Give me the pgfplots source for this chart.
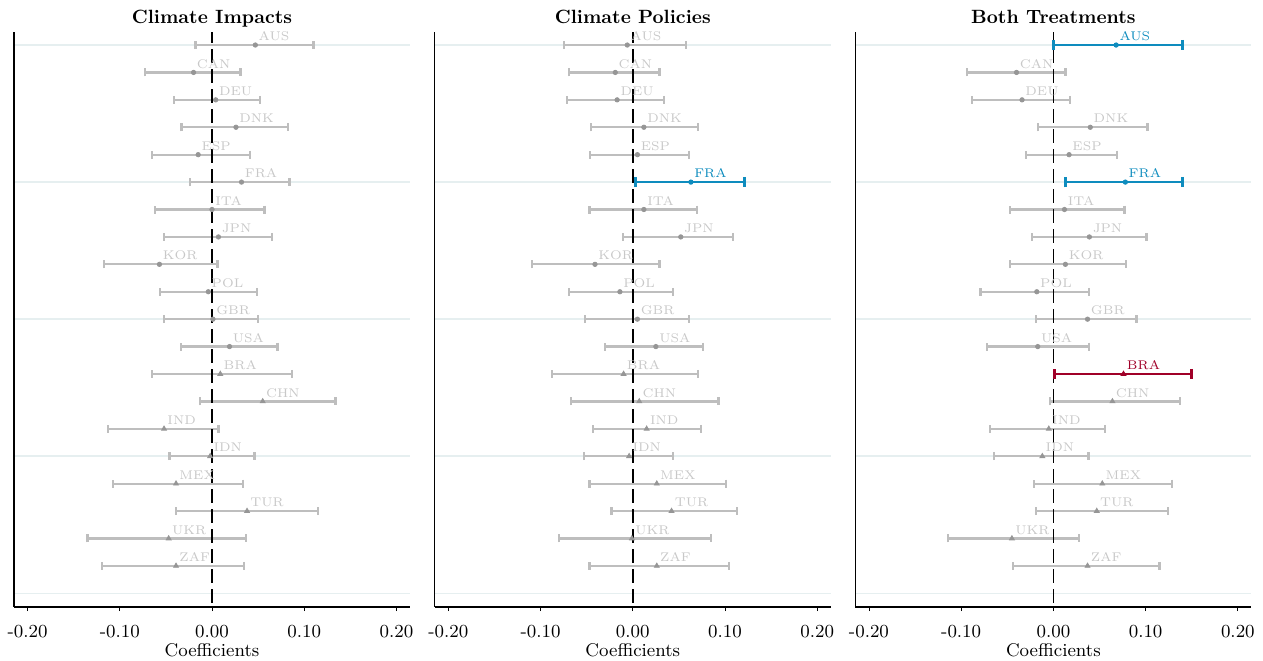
\documentclass[border=0pt]{standalone}
\usepackage{pgfplots}
\usepackage{pgfplotstable}
\pgfplotsset{compat=1.18}

\definecolor{bargray}{RGB}{190,190,190}
\definecolor{markgray}{RGB}{150,150,150}
\definecolor{labelgray}{RGB}{200,200,200}
\definecolor{gridc}{RGB}{230,239,240}
\definecolor{hlblue}{RGB}{14,140,190}
\definecolor{hlred}{RGB}{160,0,40}

\newcommand{\lbl}{\fontsize{6.3}{7}\selectfont}
\newcommand{\tck}{\fontsize{9.2}{11}\selectfont}

% rows: 0 = AUS (top) ... 19 = ZAF (bottom)
\pgfplotstableread{
row est lo hi name
0 0.047 -0.018 0.110 AUS
1 -0.020 -0.073 0.031 CAN
2 0.004 -0.041 0.052 DEU
3 0.026 -0.033 0.082 DNK
4 -0.015 -0.065 0.041 ESP
5 0.032 -0.024 0.084 FRA
6 0.000 -0.062 0.057 ITA
7 0.007 -0.052 0.065 JPN
8 -0.057 -0.117 0.006 KOR
9 -0.004 -0.056 0.049 POL
10 0.001 -0.052 0.050 GBR
11 0.019 -0.034 0.071 USA
12 0.009 -0.065 0.087 BRA
13 0.055 -0.013 0.134 CHN
14 -0.052 -0.113 0.007 IND
15 -0.002 -0.046 0.046 IDN
16 -0.039 -0.107 0.034 MEX
17 0.038 -0.039 0.115 TUR
18 -0.047 -0.135 0.037 UKR
19 -0.039 -0.119 0.035 ZAF
}\impacts

\pgfplotstableread{
row est lo hi name
0 -0.006 -0.075 0.058 AUS
1 -0.019 -0.069 0.029 CAN
2 -0.017 -0.071 0.034 DEU
3 0.012 -0.045 0.071 DNK
4 0.005 -0.046 0.061 ESP
6 0.012 -0.047 0.070 ITA
7 0.052 -0.011 0.109 JPN
8 -0.041 -0.109 0.029 KOR
9 -0.014 -0.069 0.044 POL
10 0.005 -0.052 0.061 GBR
11 0.025 -0.030 0.076 USA
12 -0.010 -0.088 0.071 BRA
13 0.007 -0.067 0.093 CHN
14 0.015 -0.043 0.074 IND
15 -0.004 -0.053 0.044 IDN
16 0.026 -0.047 0.101 MEX
17 0.042 -0.023 0.113 TUR
18 -0.001 -0.080 0.085 UKR
19 0.026 -0.047 0.104 ZAF
}\policies
\pgfplotstableread{
row est lo hi name
5 0.063 0.003 0.121 FRA
}\policieshl

\pgfplotstableread{
row est lo hi name
1 -0.040 -0.094 0.013 CAN
2 -0.034 -0.088 0.018 DEU
3 0.040 -0.017 0.102 DNK
4 0.017 -0.030 0.069 ESP
6 0.012 -0.047 0.077 ITA
7 0.039 -0.023 0.101 JPN
8 0.013 -0.047 0.079 KOR
9 -0.018 -0.079 0.039 POL
10 0.037 -0.019 0.090 GBR
11 -0.017 -0.072 0.039 USA
13 0.064 -0.004 0.137 CHN
14 -0.005 -0.069 0.056 IND
15 -0.012 -0.064 0.038 IDN
16 0.053 -0.021 0.129 MEX
17 0.047 -0.019 0.124 TUR
18 -0.045 -0.114 0.028 UKR
19 0.037 -0.044 0.115 ZAF
}\both
\pgfplotstableread{
row est lo hi name
0 0.068 0.000 0.140 AUS
5 0.078 0.013 0.140 FRA
}\bothblue
\pgfplotstableread{
row est lo hi name
12 0.076 0.001 0.150 BRA
}\bothred

\pgfplotsset{
  every axis title shift=0pt,
  coefpanel/.style={
    scale only axis, width=198pt, height=287.5pt,
    xmin=-0.2147, xmax=0.2147, ymin=-0.475, ymax=20.5, y dir=reverse,
    axis x line*=bottom, axis y line*=left,
    axis line style={line width=0.6pt, black},
    xtick={-0.2,-0.1,0,0.1,0.2},
    xticklabels={-0.20,-0.10,0.00,0.10,0.20},
    xticklabel style={font=\tck, anchor=base, yshift=-13pt},
    x tick style={black, line width=0.4pt},
    tick align=outside, major tick length=2pt,
    ytick={0,5,10,15,20}, yticklabels={}, y tick style={draw=none},
    ymajorgrids, grid style={gridc, line width=0.8pt},
    xlabel={Coefficients},
    xlabel style={font=\tck, at={(axis description cs:0.5,0)}, anchor=base, yshift=-24.5pt},
    title style={font=\bfseries\fontsize{9.6}{11}\selectfont, at={(axis description cs:0.5,1)}, anchor=base, yshift=4.5pt},
  },
  ci/.style 2 args={
    only marks, color=#1, mark options={fill=#1, draw=#1},
    error bars/x dir=both, error bars/x explicit, error bars/error mark=|,
    error bars/error bar style={line width=1.1pt, color=#2},
    error bars/error mark options={line width=1.1pt, mark size=2pt, color=#2},
    nodes near coords, point meta=explicit symbolic,
    nodes near coords style={anchor=base west, inner sep=0pt, xshift=1.5pt, yshift=2.2pt, font=\lbl, text=labelgray},
  },
  hl/.style={
    only marks, color=#1, mark options={fill=#1, draw=#1},
    error bars/x dir=both, error bars/x explicit, error bars/error mark=|,
    error bars/error bar style={line width=1.4pt, color=#1},
    error bars/error mark options={line width=1.4pt, mark size=2.6pt, color=#1},
    nodes near coords, point meta=explicit symbolic,
    nodes near coords style={anchor=base west, inner sep=0pt, xshift=1.5pt, yshift=2.2pt, font=\lbl, text=#1},
  },
  table/ci table/.style={x=est, y=row, meta=name,
    x error plus expr=\thisrow{hi}-\thisrow{est},
    x error minus expr=\thisrow{est}-\thisrow{lo}},
}

\newcommand{\zeroline}{\draw[black, line width=0.75pt, dash pattern=on 7pt off 3pt, dash phase=1.5pt] (axis cs:0,-0.475) -- (axis cs:0,20.5);}

\begin{document}
\begin{tikzpicture}
\useasboundingbox (-7pt,-26.5pt) rectangle (624.5pt,303.5pt);

\begin{axis}[coefpanel, at={(0pt,0pt)}, title={Climate Impacts}]
  \addplot[ci={markgray}{bargray}, mark=*, mark size=1.1pt, restrict y to domain=0:11]
    table[ci table] {\impacts};
  \addplot[ci={markgray}{bargray}, mark=triangle*, mark size=1.4pt, restrict y to domain=12:19]
    table[ci table] {\impacts};
  \zeroline
\end{axis}

\begin{axis}[coefpanel, at={(210.4pt,0pt)}, title={Climate Policies}]
  \addplot[ci={markgray}{bargray}, mark=*, mark size=1.1pt, restrict y to domain=0:11]
    table[ci table] {\policies};
  \addplot[ci={markgray}{bargray}, mark=triangle*, mark size=1.4pt, restrict y to domain=12:19]
    table[ci table] {\policies};
  \zeroline
  \addplot[hl=hlblue, mark=*, mark size=1.1pt] table[ci table] {\policieshl};
\end{axis}

\begin{axis}[coefpanel, at={(420.7pt,0pt)}, title={Both Treatments}]
  \addplot[ci={markgray}{bargray}, mark=*, mark size=1.1pt, restrict y to domain=0:11]
    table[ci table] {\both};
  \addplot[ci={markgray}{bargray}, mark=triangle*, mark size=1.4pt, restrict y to domain=12:19]
    table[ci table] {\both};
  \zeroline
  \addplot[hl=hlblue, mark=*, mark size=1.1pt] table[ci table] {\bothblue};
  \addplot[hl=hlred, mark=triangle*, mark size=1.4pt] table[ci table] {\bothred};
\end{axis}
\end{tikzpicture}
\end{document}
